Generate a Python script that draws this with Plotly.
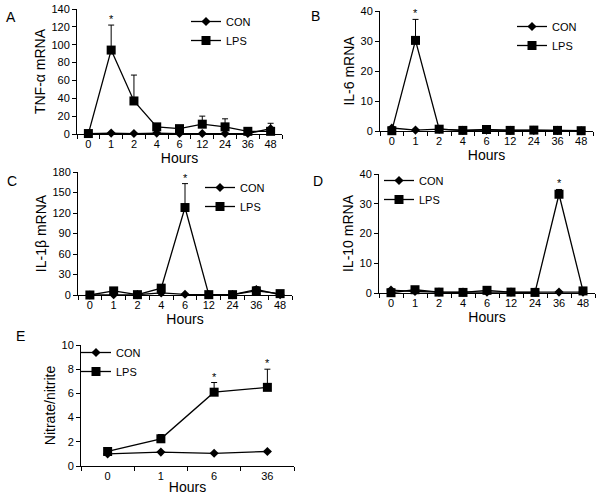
import plotly.graph_objects as go

# ---------------- data ----------------
hours9 = ["0", "1", "2", "4", "6", "12", "24", "36", "48"]
hours4 = ["0", "1", "6", "36"]

tnf_con = [0.5, 1, 0.5, 1, 0.5, 0.5, 0.5, 0.5, 6]
tnf_con_err = [0, 0, 0, 0, 0, 0, 0, 0, 6]
tnf_lps = [0.5, 94, 37, 8, 6, 11, 8, 3, 3]
tnf_lps_err = [0, 28, 29, 3, 2, 9, 9, 2, 2]

il6_con = [1.0, 0.3, 0.6, 0.2, 0.3, 0.2, 0.2, 0.2, 0.1]
il6_con_err = [0, 0, 0, 0, 0, 0, 0, 0, 0]
il6_lps = [0.1, 30.2, 0.6, 0.2, 0.5, 0.2, 0.3, 0.2, 0.1]
il6_lps_err = [0, 7, 0, 0, 0, 0, 0, 0, 0]

il1b_con = [0, 0.5, 0.5, 3, 1, 0.5, 0.5, 8, 0.5]
il1b_con_err = [0, 0, 0, 0, 0, 0, 0, 4, 0]
il1b_lps = [0, 6, 0.5, 10, 128, 0.5, 0.5, 6, 2]
il1b_lps_err = [0, 1, 0, 5, 35, 0, 0, 4, 0]

il10_con = [1.0, 0.5, 0.3, 0.3, 0.3, 0.3, 0.3, 0.3, 0.3]
il10_con_err = [0, 0, 0, 0, 0, 0, 0, 0, 0]
il10_lps = [0.1, 1.1, 0.3, 0.2, 0.9, 0.3, 0.2, 33.2, 0.7]
il10_lps_err = [0, 0, 0, 0, 0, 0, 0, 1.6, 0]

no_con = [1.0, 1.15, 1.05, 1.2]
no_con_err = [0, 0, 0, 0]
no_lps = [1.2, 2.25, 6.1, 6.5]
no_lps_err = [0.1, 0.35, 0.8, 1.5]

panel_letters = ["A", "B", "C", "D", "E"]
y_titles = ["TNF-\u03b1 mRNA", "IL-6 mRNA", "IL-1\u03b2 mRNA", "IL-10 mRNA", "Nitrate/nitrite"]
y_ranges = [[0, 140], [0, 40], [0, 180], [0, 40], [0, 10]]
y_dticks = [20, 10, 30, 10, 2]
star_index = [[1], [1], [4], [7], [2, 3]]

W, H = 600, 499

# pixel boxes (left, right, top, bottom)
boxes = [
    (77, 282, 9, 134),
    (380, 593, 11, 131),
    (78, 292, 172, 295),
    (379, 595, 174, 293),
    (81, 294, 345, 466),
]
legend_pos = [(186, 7), (512, 12), (200, 173), (379, 166), (76, 338)]
letter_pos = [(11, 17), (316, 16), (12, 181), (318, 181), (20, 336)]

panels = [
    (hours9, tnf_con, tnf_con_err, tnf_lps, tnf_lps_err),
    (hours9, il6_con, il6_con_err, il6_lps, il6_lps_err),
    (hours9, il1b_con, il1b_con_err, il1b_lps, il1b_lps_err),
    (hours9, il10_con, il10_con_err, il10_lps, il10_lps_err),
    (hours4, no_con, no_con_err, no_lps, no_lps_err),
]

FONT = "Liberation Sans, Arial, sans-serif"
fig = go.Figure()
annotations = []
layout = {}

for i, (cats, con, con_e, lps, lps_e) in enumerate(panels):
    n = i + 1
    xa = "x" if n == 1 else f"x{n}"
    ya = "y" if n == 1 else f"y{n}"
    lg = "legend" if n == 1 else f"legend{n}"
    for name, vals, errs, sym, size in [("CON", con, con_e, "diamond", 7),
                                         ("LPS", lps, lps_e, "square", 9)]:
        fig.add_trace(go.Scatter(
            x=cats, y=vals, name=name, mode="lines+markers",
            xaxis=xa, yaxis=ya, legend=lg, cliponaxis=False,
            line=dict(color="black", width=1.3),
            marker=dict(symbol=sym, size=size, color="black"),
            error_y=dict(type="data", symmetric=False, array=errs,
                         arrayminus=[0] * len(errs), color="black",
                         thickness=1, width=3),
        ))
    l, r, t, b = boxes[i]
    xkey = "xaxis" if n == 1 else f"xaxis{n}"
    ykey = "yaxis" if n == 1 else f"yaxis{n}"
    layout[xkey] = dict(
        domain=[l / W, r / W], anchor=ya, type="category",
        range=[-0.5, len(cats) - 0.5], tickson="boundaries",
        ticks="outside", ticklen=4, tickcolor="black", tickwidth=1,
        showline=True, linecolor="black", linewidth=1, showgrid=False,
        zeroline=False, fixedrange=True, automargin=False,
        tickfont=dict(family=FONT, size=11, color="black"),
        title=dict(text="Hours", font=dict(family=FONT, size=14, color="black"),
                   standoff=0),
    )
    layout[ykey] = dict(
        domain=[1 - b / H, 1 - t / H], anchor=xa,
        range=y_ranges[i], dtick=y_dticks[i], tick0=0,
        ticks="outside", ticklen=4, tickcolor="black", tickwidth=1,
        showline=True, linecolor="black", linewidth=1, showgrid=False,
        zeroline=False, fixedrange=True, automargin=False,
        tickfont=dict(family=FONT, size=11, color="black"),
        title=dict(text=y_titles[i], font=dict(family=FONT, size=14, color="black"),
                   standoff=2),
    )
    lx, ly = legend_pos[i]
    layout[lg] = dict(
        x=lx / W, y=1 - ly / H, xanchor="left", yanchor="top",
        bgcolor="rgba(0,0,0,0)", font=dict(family=FONT, size=11, color="black"),
        itemwidth=30, tracegroupgap=0,
    )
    px, py = letter_pos[i]
    annotations.append(dict(
        text=panel_letters[i], x=px / W, y=1 - py / H, xref="paper", yref="paper",
        showarrow=False, xanchor="center", yanchor="middle",
        font=dict(family=FONT, size=14, color="black"),
    ))
    for s in star_index[i]:
        annotations.append(dict(
            text="*", x=s, y=lps[s] + lps_e[s], xref=xa, yref=ya,
            showarrow=False, yanchor="bottom", yshift=-2,
            font=dict(family=FONT, size=11, color="black"),
        ))

fig.update_layout(
    width=W, height=H, margin=dict(l=0, r=0, t=0, b=0, autoexpand=False),
    paper_bgcolor="white", plot_bgcolor="white", showlegend=True,
    annotations=annotations, **layout,
)

fig.write_html(
    "out.html",
    config={"displayModeBar": False},
    post_script="document.body.style.margin='0px';document.body.style.overflow='hidden';",
)
